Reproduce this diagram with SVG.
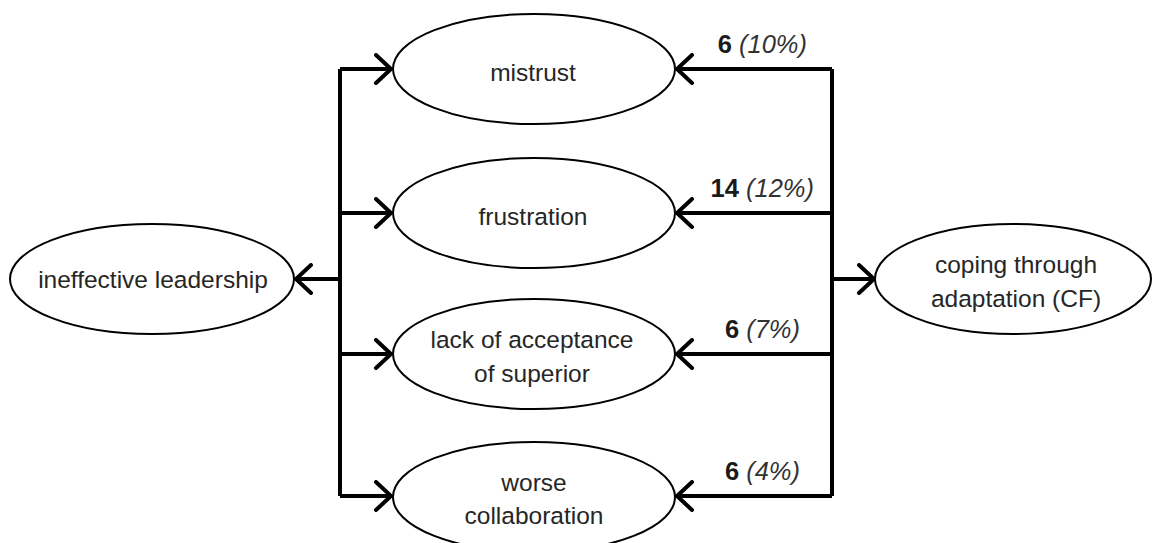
<svg xmlns="http://www.w3.org/2000/svg" width="1153" height="543" viewBox="0 0 1153 543">
<style>
.node{fill:#fff;stroke:#000;stroke-width:2}
.t{font-family:"Liberation Sans",Arial,sans-serif;font-size:24.5px;fill:#262626;text-anchor:middle}
.c{fill:none;stroke:#000;stroke-width:4}
.lb{font-family:"Liberation Sans",Arial,sans-serif;font-size:25.5px;fill:#1a1a1a;text-anchor:end}
.lb .n{font-weight:bold}
.lb .p{font-style:italic;fill:#333}
</style>
<defs>
<marker id="ah" viewBox="-18 -16 22 32" markerWidth="22" markerHeight="32" refX="0" refY="0" orient="auto" markerUnits="userSpaceOnUse">
<path d="M-15,-14 L0,0 L-15,14" fill="none" stroke="#000" stroke-width="4" stroke-linecap="round" stroke-linejoin="miter"/>
</marker>
</defs>
<g id="connectors">
<path class="c" d="M340,69 V496"/>
<path class="c" d="M340,69 H391" marker-end="url(#ah)"/>
<path class="c" d="M340,213 H391" marker-end="url(#ah)"/>
<path class="c" d="M340,354 H391" marker-end="url(#ah)"/>
<path class="c" d="M340,496 H391" marker-end="url(#ah)"/>
<path class="c" d="M340,279 H296" marker-end="url(#ah)"/>
<path class="c" d="M832,69 V496"/>
<path class="c" d="M832,69 H677" marker-end="url(#ah)"/>
<path class="c" d="M832,213 H677" marker-end="url(#ah)"/>
<path class="c" d="M832,354 H677" marker-end="url(#ah)"/>
<path class="c" d="M832,496 H677" marker-end="url(#ah)"/>
<path class="c" d="M832,279 H874" marker-end="url(#ah)"/>
<text class="lb" x="807" y="53"><tspan class="n">6</tspan><tspan class="p"> (10%)</tspan></text>
<text class="lb" x="814" y="197"><tspan class="n">14</tspan><tspan class="p"> (12%)</tspan></text>
<text class="lb" x="800" y="338"><tspan class="n">6</tspan><tspan class="p"> (7%)</tspan></text>
<text class="lb" x="800" y="480"><tspan class="n">6</tspan><tspan class="p"> (4%)</tspan></text>
</g>
<g id="mistrust"><ellipse class="node" cx="534" cy="69" rx="141" ry="55"/><text class="t" x="533" y="81">mistrust</text></g>
<g id="frustration"><ellipse class="node" cx="534" cy="213" rx="141" ry="55"/><text class="t" x="533" y="225">frustration</text></g>
<g id="lack"><ellipse class="node" cx="534" cy="354" rx="141" ry="55"/><text class="t" x="532" y="348">lack of acceptance</text><text class="t" x="532" y="382">of superior</text></g>
<g id="worse"><ellipse class="node" cx="534" cy="497" rx="141" ry="55"/><text class="t" x="534" y="491">worse</text><text class="t" x="534" y="524">collaboration</text></g>
<g id="ineffective"><ellipse class="node" cx="152" cy="279" rx="142" ry="55"/><text class="t" x="153" y="288">ineffective leadership</text></g>
<g id="coping"><ellipse class="node" cx="1013" cy="279" rx="138" ry="55"/><text class="t" x="1016" y="273">coping through</text><text class="t" x="1016" y="307">adaptation (CF)</text></g>
</svg>
